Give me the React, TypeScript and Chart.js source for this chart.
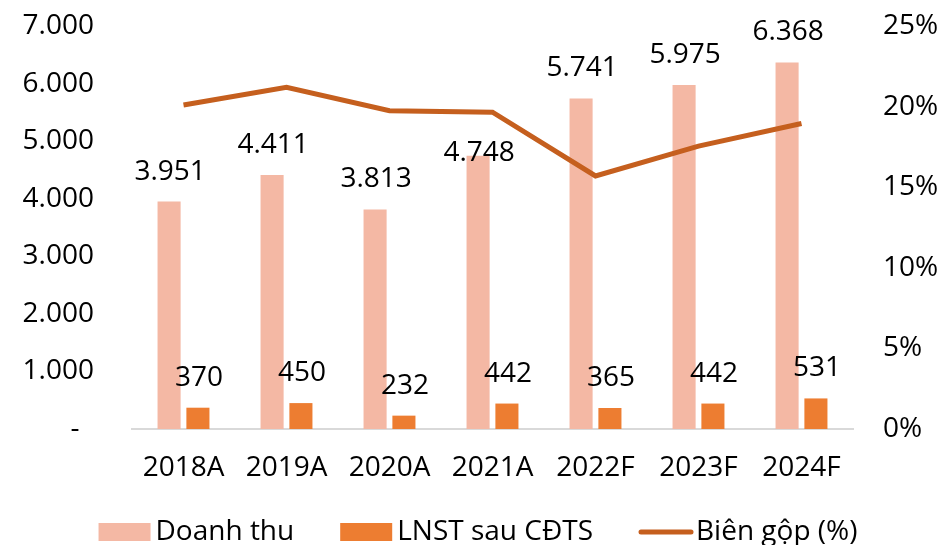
import { useEffect, useRef } from 'react';
import { Chart, registerables } from 'chart.js';

Chart.register(...registerables);

const categories = ['2018A', '2019A', '2020A', '2021A', '2022F', '2023F', '2024F'];
const revenue = [3951, 4411, 3813, 4748, 5741, 5975, 6368];
const netProfit = [370, 450, 232, 442, 365, 442, 531];
const grossMargin = [20.1, 21.2, 19.75, 19.65, 15.7, 17.55, 18.95];
const seriesNames = ['Doanh thu', 'LNST sau CĐTS', 'Biên gộp (%)'];

const FONT = '"Open Sans", sans-serif';
const FONT_SIZE = 28;
const SALMON = '#F4B8A4';
const ORANGE = '#ED7D31';
const BROWN = '#C55F1E';

// label placement (style): default lift above bar top, with one label moved down below the line
const LABEL_LIFT = 30;
const LABEL_LIFT_OVERRIDES: Record<string, number> = { '0-3': 3 };

const fmt = (v: number) => String(Math.round(v)).replace(/\B(?=(\d{3})+(?!\d))/g, '.');

const valueLabels = {
  id: 'valueLabels',
  afterDatasetsDraw(chart: any) {
    const ctx = chart.ctx;
    ctx.save();
    ctx.font = `${FONT_SIZE}px ${FONT}`;
    ctx.fillStyle = '#000';
    ctx.textAlign = 'center';
    ctx.textBaseline = 'middle';
    chart.data.datasets.forEach((d: any, di: number) => {
      if (d.type !== 'bar') return;
      const meta = chart.getDatasetMeta(di);
      const data = d.data as number[];
      meta.data.forEach((el: any, i: number) => {
        const key = `${di}-${i}`;
        const lift = key in LABEL_LIFT_OVERRIDES ? LABEL_LIFT_OVERRIDES[key] : LABEL_LIFT;
        ctx.fillText(fmt(data[i]), el.x + 1, el.y - lift);
      });
    });
    ctx.restore();
  },
};

const customLegend = {
  id: 'customLegend',
  afterDraw(chart: any) {
    const ctx = chart.ctx;
    ctx.save();
    ctx.font = `${FONT_SIZE}px ${FONT}`;
    const boxW = 52;
    const boxH = 18;
    const textGap = 5;
    const itemGap = 46;
    const ds = chart.data.datasets;
    const widths = ds.map((d: any) => boxW + textGap + ctx.measureText(d.label).width);
    const total = widths.reduce((a: number, b: number) => a + b, 0) + itemGap * (ds.length - 1);
    let x = 478 - total / 2;
    const cy = 532;
    ds.forEach((d: any, i: number) => {
      if (d.type === 'line') {
        ctx.strokeStyle = d.borderColor;
        ctx.lineWidth = 5;
        ctx.lineCap = 'round';
        ctx.beginPath();
        ctx.moveTo(x + 2, cy);
        ctx.lineTo(x + boxW, cy);
        ctx.stroke();
      } else {
        ctx.fillStyle = d.backgroundColor;
        ctx.fillRect(x, cy - boxH / 2, boxW, boxH);
      }
      ctx.fillStyle = '#000';
      ctx.textAlign = 'left';
      ctx.textBaseline = 'middle';
      ctx.fillText(d.label, x + boxW + textGap, cy);
      x += widths[i] + itemGap;
    });
    ctx.restore();
  },
};

export default function App() {
  const ref = useRef<HTMLCanvasElement | null>(null);

  useEffect(() => {
    if (!ref.current) return;
    const chart = new Chart(ref.current, {
      type: 'bar',
      data: {
        labels: categories,
        datasets: [
          {
            type: 'bar',
            label: seriesNames[0],
            data: revenue,
            backgroundColor: SALMON,
            yAxisID: 'y',
            order: 1,
            categoryPercentage: 0.56,
            barPercentage: 0.8,
          },
          {
            type: 'bar',
            label: seriesNames[1],
            data: netProfit,
            backgroundColor: ORANGE,
            yAxisID: 'y',
            order: 1,
            categoryPercentage: 0.56,
            barPercentage: 0.8,
          },
          {
            type: 'line',
            label: seriesNames[2],
            data: grossMargin,
            borderColor: BROWN,
            backgroundColor: BROWN,
            borderWidth: 5,
            pointRadius: 0,
            tension: 0,
            yAxisID: 'y1',
            order: 0,
          } as any,
        ],
      },
      options: {
        animation: false,
        responsive: false,
        maintainAspectRatio: false,
        layout: { padding: { top: 26, bottom: 0, left: 0, right: 0 } },
        plugins: {
          legend: { display: false },
          tooltip: { enabled: false },
        },
        scales: {
          x: {
            grid: { display: false, drawTicks: false },
            border: { display: true, color: '#D9D9D9', width: 2 },
            ticks: {
              font: { family: FONT, size: FONT_SIZE },
              color: '#000',
              padding: 22,
              maxRotation: 0,
            },
            afterFit(scale: any) {
              scale.height = 116;
              scale.paddingLeft = 0;
              scale.paddingRight = 0;
            },
          },
          y: {
            position: 'left',
            min: 0,
            max: 7000,
            grid: { display: false, drawTicks: false },
            border: { display: false },
            ticks: {
              stepSize: 1000,
              font: { family: FONT, size: FONT_SIZE },
              color: '#000',
              padding: 38,
              callback: (v: any) => (Number(v) === 0 ? '-  ' : fmt(Number(v))),
            },
            afterFit(scale: any) {
              scale.width = 132;
              scale.paddingTop = 0;
              scale.paddingBottom = 0;
            },
          },
          y1: {
            position: 'right',
            min: 0,
            max: 25,
            grid: { display: false, drawTicks: false },
            border: { display: false },
            ticks: {
              stepSize: 5,
              font: { family: FONT, size: FONT_SIZE },
              color: '#000',
              padding: 30,
              callback: (v: any) => `${v}%`,
            },
            afterFit(scale: any) {
              scale.width = 90;
              scale.paddingTop = 0;
              scale.paddingBottom = 0;
            },
          },
        },
      },
      plugins: [valueLabels, customLegend],
    });
    return () => chart.destroy();
  }, []);

  return (
    <div style={{ position: 'fixed', left: 0, top: 0, width: 943, height: 545, background: '#fff' }}>
      <canvas ref={ref} width={943} height={545} style={{ display: 'block' }} />
    </div>
  );
}
